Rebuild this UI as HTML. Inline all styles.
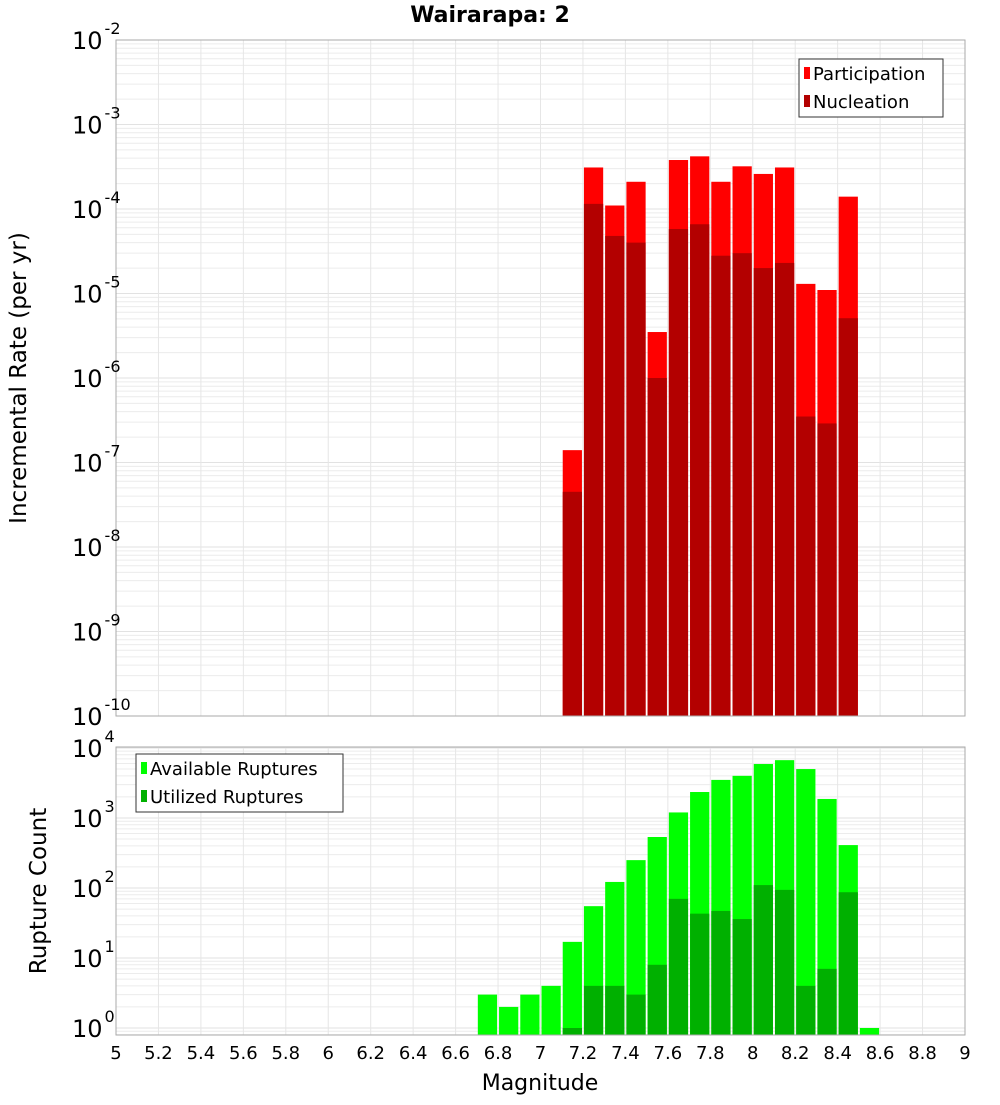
<!DOCTYPE html>
<html><head><meta charset="utf-8"><style>
body{margin:0;background:#fff}
svg{font-family:"DejaVu Sans","Liberation Sans",sans-serif}
</style></head><body>
<svg id="c" width="1000" height="1100" xmlns="http://www.w3.org/2000/svg"></svg>
<script>
const bins=[6.75,6.85,6.95,7.05,7.15,7.25,7.35,7.45,7.55,7.65,7.75,7.85,7.95,8.05,8.15,8.25,8.35,8.45,8.55];
const participation=[0,0,0,0,1.4e-7,3.1e-4,1.1e-4,2.1e-4,3.5e-6,3.8e-4,4.2e-4,2.1e-4,3.2e-4,2.6e-4,3.1e-4,1.3e-5,1.1e-5,1.4e-4,0];
const nucleation=[0,0,0,0,4.5e-8,1.15e-4,4.8e-5,4e-5,1e-6,5.8e-5,6.6e-5,2.8e-5,3e-5,2e-5,2.3e-5,3.5e-7,2.9e-7,5.1e-6,0];
const available=[3,2,3,4,17,55,122,250,535,1200,2350,3500,4000,5900,6700,5000,1870,410,1];
const utilized=[0,0,0,0,1,4,4,3,8,70,43,47,36,110,94,4,7,87,0];
const xTicks=["5","5.2","5.4","5.6","5.8","6","6.2","6.4","6.6","6.8","7","7.2","7.4","7.6","7.8","8","8.2","8.4","8.6","8.8","9"];
const topExps=[-10,-9,-8,-7,-6,-5,-4,-3,-2];
const botExps=[0,1,2,3,4];

const NS="http://www.w3.org/2000/svg",svg=document.getElementById('c');
function el(t,a,p){const e=document.createElementNS(NS,t);for(const k in a)e.setAttribute(k,a[k]);(p||svg).appendChild(e);return e;}
const X0=116,X1=965;
const x=v=>X0+(v-5)/4*(X1-X0);
const T={top:40,bot:716,lo:-10,hi:-2};
const B={top:747,bot:1035,lo:-0.1,hi:4.014};
const yT=v=>T.bot-(Math.log10(v)-T.lo)/(T.hi-T.lo)*(T.bot-T.top);
const yB=v=>B.bot-(Math.log10(v)-B.lo)/(B.hi-B.lo)*(B.bot-B.top);

function grid(P,yf,lo,hi,name){
  const g=el('g',{});  
  for(let e=Math.floor(lo);e<=Math.ceil(hi);e++)for(let m=1;m<10;m++){const v=m*Math.pow(10,e);const yy=yf(v);if(yy<P.top||yy>P.bot)continue;
    el('line',{x1:X0,x2:X1,y1:yy,y2:yy,stroke:m==1?'#e2e2e2':'#ececec','stroke-width':1},g);}
  xTicks.forEach(t=>{const xx=x(+t);el('line',{x1:xx,x2:xx,y1:P.top,y2:P.bot,stroke:'#e6e6e6'},g);});
}
grid(T,yT,T.lo,T.hi,'top');grid(B,yB,B.lo,B.hi,'bottom');

function bars(vals,yf,P,fill,name){
  vals.forEach((v,i)=>{if(v<=0)return;const yy=Math.max(P.top,yf(v));
    const r=el('rect',{x:x(bins[i]-0.05)+1,y:yy,width:x(bins[i]+0.05)-x(bins[i]-0.05)-2,height:P.bot-yy,fill:fill});
    
    });
}
bars(participation,yT,T,'#ff0000','participation');
bars(nucleation,yT,T,'#b30000','nucleation');
bars(available,yB,B,'#00ff00','available');
bars(utilized,yB,B,'#00b000','utilized');

[T,B].forEach((P,k)=>{const r=el('rect',{x:X0,y:P.top,width:X1-X0,height:P.bot-P.top,fill:'none',stroke:'#aaa'});
  });

function ylab(e,yy,name){const t=el('text',{x:72,y:yy+9,'font-size':24,fill:'#000'});
  
  t.textContent='10';const s=el('tspan',{dx:2,dy:-15,'font-size':16},t);s.textContent=String(e);}
topExps.forEach(e=>ylab(e,yT(Math.pow(10,e)),'top-y-tick'));
botExps.forEach(e=>ylab(e,yB(Math.pow(10,e)),'bottom-y-tick'));
xTicks.forEach(t=>{const l=el('text',{x:x(+t),y:1059,'font-size':18,'text-anchor':'middle'});
  l.textContent=t;});

function txt(s,a,name){const t=el('text',a);t.textContent=s;return t;}
txt('Wairarapa: 2',{x:490,y:22,'font-size':22,'font-weight':'bold','text-anchor':'middle'},'chart-title');
txt('Magnitude',{x:540,y:1090,'font-size':22,'text-anchor':'middle'},'x-axis-title');
txt('Incremental Rate (per yr)',{x:0,y:0,'font-size':23,'text-anchor':'middle',transform:'translate(26,378) rotate(-90)'},'top-y-axis-title');
txt('Rupture Count',{x:0,y:0,'font-size':23,'text-anchor':'middle',transform:'translate(46,891) rotate(-90)'},'bottom-y-axis-title');

function legend(bx,by,w,items,name){const g=el('g',{});
  el('rect',{x:bx,y:by,width:w,height:58,fill:'#fff',stroke:'#333'},g);
  items.forEach((it,i)=>{el('rect',{x:bx+5,y:by+8+i*28,width:6,height:12,fill:it[1]},g);
    const t=el('text',{x:bx+14,y:by+21+i*28,'font-size':18},g);t.textContent=it[0];});}
legend(799,59,144,[['Participation','#ff0000'],['Nucleation','#b30000']],'top-legend');
legend(136,754,207,[['Available Ruptures','#00ff00'],['Utilized Ruptures','#00b000']],'bottom-legend');
</script>
</body></html>
